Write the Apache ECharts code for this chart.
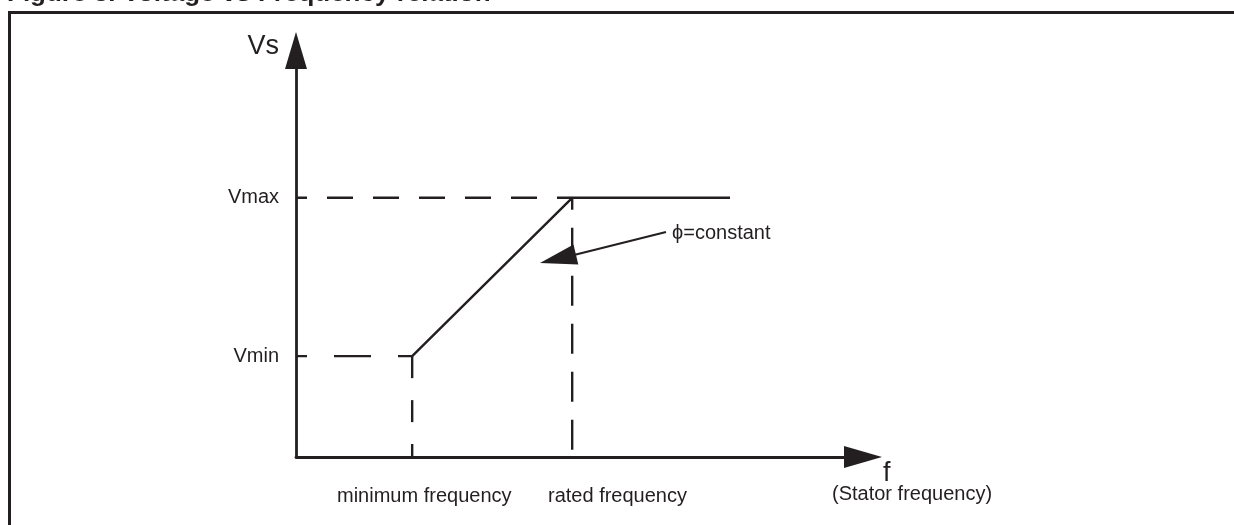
<!DOCTYPE html>
<html>
<head>
<meta charset="utf-8">
<script src="https://cdn.jsdelivr.net/npm/echarts@6/dist/echarts.min.js"></script>
<style>
  html, body { margin: 0; padding: 0; background: #ffffff; }
  #chart { width: 1234px; height: 525px; }
</style>
</head>
<body>
<div id="chart"></div>
<script>
// ---- data (abstract units, axes 0..100) ----
const levelNames = ['Vmin', 'Vmax'];
const levelValues = [26.0, 66.8];
const freqNames = ['minimum frequency', 'rated frequency'];
const freqValues = [21.2, 50.4];
const curveX = [21.2, 50.4, 79.2];
const curveY = [26.0, 66.8, 66.8];
const axisMax = [100, 100];

const INK = '#231f20';
const FONT = "'Liberation Sans', Arial, Helvetica, sans-serif";

const vMin = levelValues[0], vMax = levelValues[1];
const fMin = freqValues[0], fRated = freqValues[1];

function dashed(points, dash, offset) {
  return {
    type: 'line', data: points, symbol: 'none', silent: true,
    lineStyle: { color: INK, width: 2.4, type: dash, dashOffset: offset },
    z: 2
  };
}

const chart = echarts.init(document.getElementById('chart'), null, { renderer: 'canvas' });

chart.setOption({
  animation: false,
  backgroundColor: '#ffffff',
  grid: { left: 296, right: 390, top: 69, bottom: 68, containLabel: false },
  xAxis: {
    type: 'value', min: 0, max: axisMax[0],
    axisLine: {
      show: true, symbol: ['none', 'triangle'], symbolSize: [22, 38], symbolOffset: [0, 19],
      lineStyle: { color: INK, width: 2.8 }
    },
    axisTick: { show: false }, axisLabel: { show: false }, splitLine: { show: false }
  },
  yAxis: {
    type: 'value', min: 0, max: axisMax[1],
    axisLine: {
      show: true, symbol: ['none', 'triangle'], symbolSize: [22, 37], symbolOffset: [0, 18.5],
      lineStyle: { color: INK, width: 2.8 }
    },
    axisTick: { show: false },
    splitLine: { show: false },
    axisLabel: {
      show: true,
      customValues: levelValues,
      margin: 17,
      color: INK, fontSize: 20, fontFamily: FONT,
      formatter: function (v) {
        const i = levelValues.indexOf(v);
        return i >= 0 ? levelNames[i] : '';
      }
    }
  },
  series: [
    dashed([[0, vMax], [fRated, vMax]], [26, 20], 15),
    dashed([[0, vMin], [fMin, vMin]], [37, 27], 26),
    dashed([[fRated, vMax], [fRated, 0]], [30, 18], 18),
    dashed([[fMin, vMin], [fMin, 0]], [22, 22], 0),
    {
      type: 'line', symbol: 'none', silent: true,
      data: curveX.map((x, i) => [x, curveY[i]]),
      lineStyle: { color: INK, width: 2.4 },
      z: 3
    }
  ],
  graphic: [
    // frame
    { type: 'line', shape: { x1: 9.5, y1: 12.5, x2: 1234, y2: 12.5 }, style: { stroke: INK, lineWidth: 3 }, silent: true },
    { type: 'line', shape: { x1: 9.5, y1: 11, x2: 9.5, y2: 525 }, style: { stroke: INK, lineWidth: 3 }, silent: true },
    // title (cut off at top)
    { type: 'text', left: 7, top: -19, silent: true,
      style: { text: 'Figure 3. Voltage vs Frequency relation', font: "bold 26px 'Liberation Sans', Arial, sans-serif", fill: INK } },
    // axis names
    { type: 'text', x: 279, y: 47, silent: true,
      style: { text: 'Vs', font: "27px 'Liberation Sans', Arial, sans-serif", fill: INK, align: 'right', verticalAlign: 'middle' } },
    { type: 'text', x: 883, y: 474, silent: true,
      style: { text: 'f', font: "27px 'Liberation Sans', Arial, sans-serif", fill: INK, align: 'left', verticalAlign: 'middle' } },
    { type: 'text', x: 832, y: 494, silent: true,
      style: { text: '(Stator frequency)', font: "20px 'Liberation Sans', Arial, sans-serif", fill: INK, align: 'left', verticalAlign: 'middle' } },
    // frequency labels
    { type: 'text', x: 337, y: 496, silent: true,
      style: { text: freqNames[0], font: "20px 'Liberation Sans', Arial, sans-serif", fill: INK, align: 'left', verticalAlign: 'middle' } },
    { type: 'text', x: 548, y: 496, silent: true,
      style: { text: freqNames[1], font: "20px 'Liberation Sans', Arial, sans-serif", fill: INK, align: 'left', verticalAlign: 'middle' } },
    // phi = constant annotation
    { type: 'text', x: 672, y: 233, silent: true,
      style: { text: '\u03D5=constant', font: "20px 'Liberation Sans', Arial, sans-serif", fill: INK, align: 'left', verticalAlign: 'middle' } },
    { type: 'line', shape: { x1: 666, y1: 232, x2: 574, y2: 255 }, style: { stroke: INK, lineWidth: 2.3 }, silent: true, z: 10 },
    { type: 'polygon', shape: { points: [[540, 263], [578.3, 264.5], [573.5, 244.5]] }, style: { fill: INK }, silent: true, z: 10 }
  ]
});
</script>
</body>
</html>
